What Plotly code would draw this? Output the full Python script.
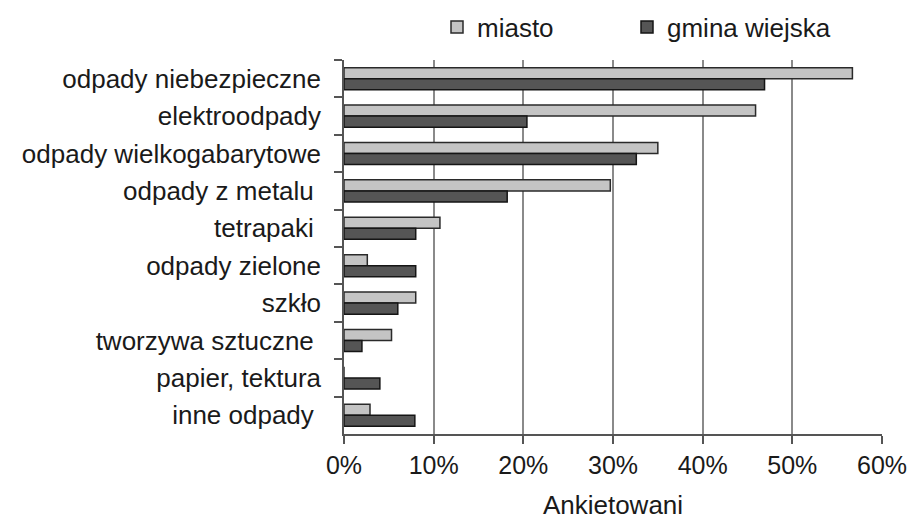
import plotly.graph_objects as go

categories = [
    "odpady niebezpieczne",
    "elektroodpady",
    "odpady wielkogabarytowe",
    "odpady z metalu\u00a0",
    "tetrapaki\u00a0",
    "odpady zielone",
    "szkło",
    "tworzywa sztuczne\u00a0",
    "papier, tektura",
    "inne odpady\u00a0",
]
miasto = [56.7, 45.9, 35.0, 29.7, 10.7, 2.6, 8.0, 5.3, 0.0, 2.9]
gmina_wiejska = [46.9, 20.4, 32.6, 18.2, 8.0, 8.0, 6.0, 2.0, 4.0, 7.9]
x_ticks = [0, 10, 20, 30, 40, 50, 60]
x_tick_labels = ["0%", "10%", "20%", "30%", "40%", "50%", "60%"]

FONT = "Liberation Sans, Arial, sans-serif"

fig = go.Figure()
fig.add_trace(go.Bar(
    y=categories, x=miasto, name="miasto", orientation="h", legend="legend",
    marker=dict(color="#c4c4c4", line=dict(color="#2a2a2a", width=1.5)),
))
fig.add_trace(go.Bar(
    y=categories, x=gmina_wiejska, name="gmina wiejska", orientation="h", legend="legend2",
    marker=dict(color="#555555", line=dict(color="#151515", width=1.5)),
))

legend_common = dict(
    orientation="h", yref="container", y=1 - 27 / 520, yanchor="middle",
    xanchor="left", font=dict(size=26, color="#1a1a1a"), itemwidth=30,
    bgcolor="rgba(0,0,0,0)", borderwidth=0,
)

fig.update_layout(
    width=911, height=520,
    margin=dict(l=344, r=29, t=60, b=86, autoexpand=False),
    paper_bgcolor="white", plot_bgcolor="white",
    barmode="group", bargap=0.41, bargroupgap=0,
    font=dict(family=FONT, size=26, color="#1a1a1a"),
    showlegend=True,
    legend=dict(x=(437 - 344) / 538, xref="paper", **legend_common),
    legend2=dict(x=(627 - 344) / 538, xref="paper", **legend_common),
    xaxis=dict(
        range=[0, 60], tickvals=x_ticks, ticktext=x_tick_labels,
        showgrid=True, gridcolor="#8a8a8a", gridwidth=1.5,
        showline=True, linecolor="#555555", linewidth=1.5,
        ticks="outside", ticklen=8, tickcolor="#555555", tickwidth=1.5,
        zeroline=False, automargin=False,
        title=dict(text="Ankietowani", font=dict(size=26), standoff=20),
        tickfont=dict(size=25),
    ),
    yaxis=dict(
        autorange="reversed", type="category", automargin=False,
        showline=True, linecolor="#555555", linewidth=1.5,
        ticks="outside", ticklen=8, tickcolor="#555555", tickwidth=1.5,
        tickson="boundaries", showgrid=False,
        tickfont=dict(size=26), ticklabelstandoff=16,
    ),
)

fig.write_html(
    "out.html",
    config={"displayModeBar": False},
    post_script="document.body.style.margin='0px';document.body.style.overflow='hidden';",
)
